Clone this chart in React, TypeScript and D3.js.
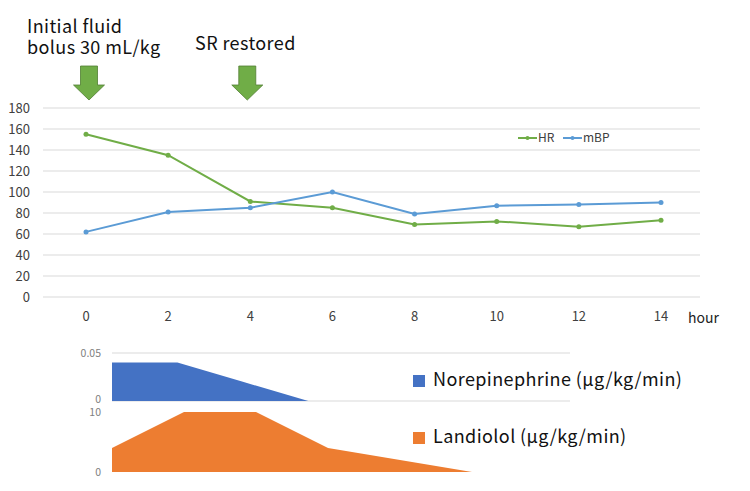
import React from "react";
import * as d3 from "d3";

const hours = [0, 2, 4, 6, 8, 10, 12, 14];
const hrValues = [155, 135, 91, 85, 69, 72, 67, 73];
const mbpValues = [62, 81, 85, 100, 79, 87, 88, 90];
const yTicks = [0, 20, 40, 60, 80, 100, 120, 140, 160, 180];

const norHours = [0, 2, 4, 6, 8, 10, 12, 14];
const norValues = [0.04, 0.04, 0.02, 0, 0, 0, 0, 0];
const norTicks = [0, 0.05];

const lanHours = [0, 2, 4, 6, 8, 10];
const lanValues = [4, 10, 10, 4, 2, 0];
const lanTicks = [0, 10];

const annotations = [
  { hour: 0, lines: ["Initial fluid", "bolus 30 mL/kg"] },
  { hour: 4, lines: ["SR restored"] },
];

const FONT = "'Noto Sans CJK JP', 'Noto Sans', sans-serif";
const GREEN = "#70AD47";
const LBLUE = "#5B9BD5";
const BLUE = "#4472C4";
const ORANGE = "#ED7D31";

export default function App() {
  const W = 750, H = 491;
  const x = d3.scaleLinear().domain([0, 14]).range([86, 661]);
  const y = d3.scaleLinear().domain([0, 180]).range([297, 108]);
  const line = d3.line<number>().x((_, i) => x(hours[i])).y((d) => y(d));

  const xn = d3.scaleLinear().domain([0, 14]).range([112, 570]);
  const yn = d3.scaleLinear().domain([0, 0.05]).range([401, 353]);
  const areaN = d3.area<number>().x((_, i) => xn(norHours[i])).y0(yn(0)).y1((d) => yn(d));

  const xl = d3.scaleLinear().domain([0, 10]).range([112, 472]);
  const yl = d3.scaleLinear().domain([0, 10]).range([472, 412]);
  const areaL = d3.area<number>().x((_, i) => xl(lanHours[i])).y0(yl(0)).y1((d) => yl(d));

  const arrow = (cx: number) => {
    const top = 66, mid = 85, tip = 100, sw = 8.5, hw = 15.5;
    return `M${cx - sw},${top} L${cx + sw},${top} L${cx + sw},${mid} L${cx + hw},${mid} L${cx},${tip} L${cx - hw},${mid} L${cx - sw},${mid} Z`;
  };

  return (
    <svg width={W} height={H} style={{ position: "absolute", left: 0, top: 0, background: "#fff" }} fontFamily={FONT}>
      {/* annotations */}
      <text x={27} y={33} fontSize={18} letterSpacing={0.4} fill="#111">{annotations[0].lines[0]}</text>
      <text x={27} y={54} fontSize={18} letterSpacing={0.4} fill="#111">{annotations[0].lines[1]}</text>
      <text x={195} y={50} fontSize={18} letterSpacing={0.4} fill="#111">{annotations[1].lines[0]}</text>
      <path d={arrow(x(annotations[0].hour) + 3)} fill={GREEN} stroke="#507E32" strokeWidth={0.8} />
      <path d={arrow(x(annotations[1].hour) - 3)} fill={GREEN} stroke="#507E32" strokeWidth={0.8} />

      {/* main gridlines */}
      {yTicks.map((t) => (
        <g key={t}>
          <line x1={43} x2={700} y1={y(t)} y2={y(t)} stroke="#d9d9d9" strokeWidth={1} />
          <text x={30} y={y(t)} dy="0.35em" textAnchor="end" fontSize={13} fill="#404040">{t}</text>
        </g>
      ))}
      {hours.map((h) => (
        <text key={h} x={x(h)} y={321} textAnchor="middle" fontSize={13} fill="#404040">{h}</text>
      ))}
      <text x={688} y={323} fontSize={14} fill="#222">hour</text>

      {/* lines */}
      <path d={line(hrValues) || ""} fill="none" stroke={GREEN} strokeWidth={2} />
      <path d={line(mbpValues) || ""} fill="none" stroke={LBLUE} strokeWidth={2} />
      {hrValues.map((v, i) => (
        <circle key={"h" + i} cx={x(hours[i])} cy={y(v)} r={2.5} fill={GREEN} />
      ))}
      {mbpValues.map((v, i) => (
        <circle key={"m" + i} cx={x(hours[i])} cy={y(v)} r={2.5} fill={LBLUE} />
      ))}

      {/* legend */}
      <line x1={518} x2={537} y1={138} y2={138} stroke={GREEN} strokeWidth={2} />
      <circle cx={527.5} cy={138} r={2} fill={GREEN} />
      <text x={538} y={138} dy="0.35em" fontSize={12} fill="#404040">HR</text>
      <line x1={563} x2={582} y1={138} y2={138} stroke={LBLUE} strokeWidth={2} />
      <circle cx={572.5} cy={138} r={2} fill={LBLUE} />
      <text x={583} y={138} dy="0.35em" fontSize={12} fill="#404040">mBP</text>

      {/* norepinephrine */}
      {norTicks.map((t, i) => (
        <g key={"n" + t}>
          <line x1={112} x2={570} y1={yn(t)} y2={yn(t)} stroke="#d9d9d9" strokeWidth={1} />
          <text x={101} y={yn(t) - (i === 0 ? 2 : 0)} dy="0.35em" textAnchor="end" fontSize={10.5} fill="#808080">{t}</text>
        </g>
      ))}
      <path d={areaN(norValues) || ""} fill={BLUE} />

      {/* landiolol */}
      {lanTicks.map((t) => (
        <text key={"l" + t} x={101} y={yl(t)} dy="0.35em" textAnchor="end" fontSize={10.5} fill="#808080">{t}</text>
      ))}
      <path d={areaL(lanValues) || ""} fill={ORANGE} />

      {/* drug legend */}
      <rect x={413} y={375} width={12} height={12} fill={BLUE} />
      <text x={433} y={386} fontSize={18} letterSpacing={0.4} fill="#111">Norepinephrine (μg/kg/min)</text>
      <rect x={413} y={432} width={12} height={12} fill={ORANGE} />
      <text x={433} y={443} fontSize={18} letterSpacing={0.4} fill="#111">Landiolol (μg/kg/min)</text>
    </svg>
  );
}
